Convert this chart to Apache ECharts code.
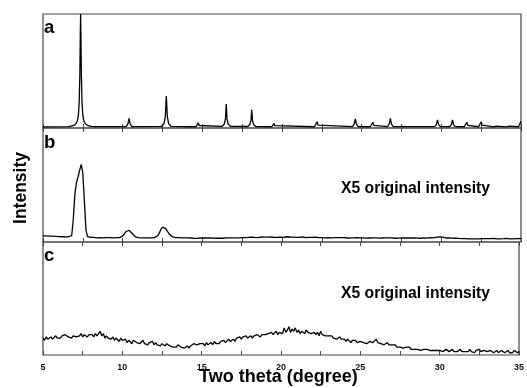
<!DOCTYPE html>
<html><head><meta charset="utf-8">
<script src="https://cdn.jsdelivr.net/npm/echarts@6/dist/echarts.min.js"></script>
<style>html,body{margin:0;padding:0;background:#fff}#c{width:527px;height:388px}</style>
</head><body><div id="c"></div>
<script>
// ---- data ----
const thetaTicks = [5, 10, 15, 20, 25, 30, 35];
const panelLetters = ['a', 'b', 'c'];
const noteText = 'X5 original intensity';
const xTitle = 'Two theta (degree)';
const yTitle = 'Intensity';

// panel a: simulated pattern, [2theta, intensity]
const patternA = [
  [5,1],[6.6,1.2],[6.9,2],[7.05,3.5],[7.15,6],[7.22,11],[7.27,22],[7.31,45],[7.34,80],[7.36,100],[7.38,80],[7.41,45],[7.45,22],[7.5,11],[7.57,6],[7.67,3.5],[7.82,2],[8.1,1.2],
  [10.22,1.2],[10.33,3.6],[10.4,8.5],[10.47,3.6],[10.58,1.2],
  [12.45,1.5],[12.6,4],[12.68,10.5],[12.74,28],[12.8,10.5],[12.88,4],[13.03,1.5],
  [14.6,1.1],[14.7,2.2],[14.75,4.5],[14.8,2.2],[14.9,1.1],
  [16.24,1.4],[16.38,3.5],[16.45,8],[16.5,21],[16.55,8],[16.62,3.5],[16.76,1.4],
  [17.85,1.3],[17.98,3],[18.05,6.5],[18.1,16],[18.15,6.5],[18.22,3],[18.35,1.3],
  [19.36,1.1],[19.45,2],[19.5,4],[19.55,2],[19.64,1.1],
  [22.04,1.1],[22.14,2.5],[22.2,5.5],[22.26,2.5],[22.36,1.1],
  [24.42,1.2],[24.53,3.3],[24.6,8],[24.67,3.3],[24.78,1.2],
  [25.54,1.1],[25.64,2.3],[25.7,5],[25.76,2.3],[25.86,1.1],
  [26.62,1.2],[26.73,3.5],[26.8,8.5],[26.87,3.5],[26.98,1.2],
  [29.58,1.2],[29.69,3],[29.76,7],[29.83,3],[29.94,1.2],
  [30.53,1.2],[30.63,3],[30.7,7],[30.77,3],[30.87,1.2],
  [31.44,1.1],[31.54,2.3],[31.6,5],[31.66,2.3],[31.76,1.1],
  [32.34,1.1],[32.44,2.5],[32.5,5.5],[32.56,2.5],[32.66,1.1],
  [33.3,1],[33.36,1.6],[33.4,2.5],[33.44,1.6],[33.5,1],
  [34.1,1],[34.16,1.6],[34.2,2.5],[34.24,1.6],[34.3,1],
  [34.85,1.1],[34.94,2.5],[35,6]
];

// panels b and c: measured scans, 5.0 to 35.0 deg in steps of 0.1
const scanStart = 5, scanStep = 0.1;
const intensityB = [
  5.3,5.1,5.4,5.0,5.2,4.9,5.1,4.8,5.0,4.9,
  4.7,4.9,4.6,4.8,4.5,4.7,4.6,4.5,5.5,20,
  42,52,57,63,68,60,35,10,4.8,4.2,
  4.0,3.8,4.1,3.9,3.7,4.0,3.8,3.9,3.6,3.8,
  3.9,3.7,3.8,4.0,3.7,3.9,3.8,3.6,3.9,4.1,
  5.2,7,9,10.5,10.3,9,7.5,6,4.6,4.0,
  3.8,3.9,3.7,3.8,3.6,3.9,3.7,3.8,3.6,3.7,
  3.8,4.0,5.5,8,11,13,13.4,12,9.5,7.5,
  6,4.8,4.2,3.9,3.7,3.8,3.6,3.7,3.5,3.7,
  3.4,3.6,3.3,3.5,3.4,3.2,3.5,3.3,3.4,3.6,
  3.3,3.5,3.4,3.6,3.3,3.5,3.2,3.4,3.5,3.3,
  3.5,3.4,3.6,3.3,3.5,3.7,3.4,3.6,3.5,3.7,
  3.8,3.6,3.9,3.7,4.0,3.8,3.7,3.9,3.8,4.1,
  3.9,4.2,3.8,4.0,4.3,3.9,4.1,4.4,4.0,4.2,
  4.1,4.3,3.9,4.4,4.2,4.0,4.3,4.1,4.5,4.2,
  4.4,4.1,4.3,4.6,4.2,4.4,4.0,4.3,4.5,4.1,
  4.3,4.0,4.2,4.4,4.1,3.9,4.2,4.0,4.3,4.1,
  3.9,4.2,4.0,3.8,4.1,3.9,4.0,3.7,4.0,3.8,
  3.9,3.7,4.0,3.8,3.6,3.9,3.7,3.8,3.6,3.9,
  3.7,3.5,3.8,3.6,3.9,3.7,3.5,3.8,3.6,3.7,
  3.5,3.7,3.6,3.4,3.7,3.5,3.8,3.6,3.5,3.7,
  3.6,3.4,3.7,3.5,3.8,3.6,3.4,3.6,3.5,3.7,
  3.5,3.3,3.6,3.4,3.7,3.5,3.3,3.6,3.4,3.5,
  3.4,3.6,3.3,3.5,3.7,3.4,3.6,3.3,3.5,3.7,
  3.5,3.4,3.6,3.8,3.5,3.7,4.0,4.3,4.1,4.4,
  4.6,4.2,3.8,3.5,3.3,3.5,3.2,3.4,3.1,3.3,
  2.9,3.1,2.8,3.0,2.7,2.9,3.1,2.8,3.0,2.7,
  2.9,2.7,3.0,2.8,3.1,2.9,2.7,3.0,2.8,2.9,
  2.7,3.0,2.8,3.1,2.9,2.7,3.0,2.8,3.1,2.9,
  2.8,3.1,2.9,2.7,3.0,2.8,3.1,2.9,2.7,3.0,
  2.9
];
const intensityC = [
  15,13,16,14,15,16,14,15,17,15,
  16,15,17,16,18,17,16,17,15,17,
  18,16,17,17,19,16,18,17,16,18,
  17,18,16,19,17,18,21,17,19,15,
  17,15,16,14,16,13,15,14,12,15,
  13,12,14,11,13,12,10,13,12,11,
  12,10,11,13,10,11,9,11,10,12,
  9,11,9,10,8,10,9,8,10,9,
  8,9,7,8,7,9,8,7,8,6,
  7,8,6,8,7,10,9,9,8,10,
  9,10,8,11,9,10,11,9,12,10,
  11,10,12,11,13,11,12,14,12,13,
  14,12,15,14,16,14,16,15,17,15,
  16,17,15,17,16,18,17,16,18,17,
  18,17,19,18,20,18,19,21,18,20,
  21,19,24,20,22,25,20,23,21,24,
  20,22,19,21,20,19,22,20,21,19,
  19,20,18,20,17,21,18,19,17,18,
  17,16,17,15,16,14,15,16,14,15,
  14,12,14,13,11,13,12,13,11,12,
  12,13,11,12,10,11,12,13,11,12,
  14,11,12,10,11,9,10,11,9,10,
  9,8,9,7,8,7,8,6,7,7,
  6,7,5,6,5,6,5,6,4,5,
  5,4,5,6,4,5,4,5,4,4,
  4,5,3,4,5,4,3,4,5,3,
  4,3,4,5,3,4,3,4,3,5,
  3,4,2,4,3,5,3,2,4,3,
  3,2,4,3,2,3,4,2,3,4,
  3,2,3,4,2,3,2,4,3,2,
  3
];

// ---- chart ----
const toPairs = arr => arr.map((v, i) => [+(scanStart + i * scanStep).toFixed(2), v]);
const chart = echarts.init(document.getElementById('c'), null, {renderer: 'canvas'});
const FONT = 'Liberation Sans, Arial, sans-serif';
const grids = [
  {left: 43, right: 6, top: 14, height: 114},
  {left: 43, right: 6, top: 128, height: 114},
  {left: 43, right: 6, top: 242, height: 113}
].map(g => Object.assign(g, {show: true, borderColor: '#444', borderWidth: 1.2, backgroundColor: 'transparent'}));

const xAxes = [];
const yAxes = [];
for (let i = 0; i < 3; i++) {
  xAxes.push({
    type: 'value', gridIndex: i, min: 5, max: 35, interval: 2.5, position: 'bottom',
    axisLine: {show: false}, splitLine: {show: false},
    axisTick: {show: true, inside: true, length: 4, lineStyle: {color: '#444', width: 1}},
    axisLabel: {
      show: i === 2, margin: 8, fontFamily: FONT, fontWeight: 'bold', fontSize: 9, color: '#111',
      formatter: v => thetaTicks.includes(v) ? String(v) : ''
    }
  });
  yAxes.push({type: 'value', gridIndex: i, min: 0, max: 100, show: false});
}
for (let i = 1; i < 3; i++) {
  xAxes.push({
    type: 'value', gridIndex: i, min: 5, max: 35, interval: 2.5, position: 'top',
    axisLine: {show: false}, splitLine: {show: false}, axisLabel: {show: false},
    axisTick: {show: true, inside: true, length: 4, lineStyle: {color: '#444', width: 1}}
  });
}

const lineStyle = {color: '#000', width: 1.3};
const mk = (data, idx) => ({
  type: 'line', xAxisIndex: idx, yAxisIndex: idx, data, showSymbol: false, symbol: 'none',
  lineStyle, animation: false, clip: true
});

const texts = [];
const letterBase = [35, 150, 263];
panelLetters.forEach((t, i) => texts.push({
  type: 'text', left: 44, top: letterBase[i] - 17,
  style: {text: t, font: 'bold 18.5px ' + FONT, fill: '#000'}
}));
[194, 299.5].forEach(b => texts.push({
  type: 'text', left: 341, top: b - 13.5,
  style: {text: noteText, font: 'bold 15.7px ' + FONT, fill: '#000'}
}));
texts.push({
  type: 'text', left: 199, top: 368,
  style: {text: xTitle, font: 'bold 18px ' + FONT, fill: '#000'}
});
texts.push({
  type: 'text', x: 12, y: 188, rotation: Math.PI / 2,
  style: {text: yTitle, font: 'bold 17.5px ' + FONT, fill: '#000', textAlign: 'center', textVerticalAlign: 'top'}
});

chart.setOption({
  animation: false,
  backgroundColor: '#fff',
  grid: grids,
  xAxis: xAxes,
  yAxis: yAxes,
  series: [mk(patternA, 0), mk(toPairs(intensityB), 1), mk(toPairs(intensityC), 2)],
  graphic: texts
});
</script>
</body></html>
